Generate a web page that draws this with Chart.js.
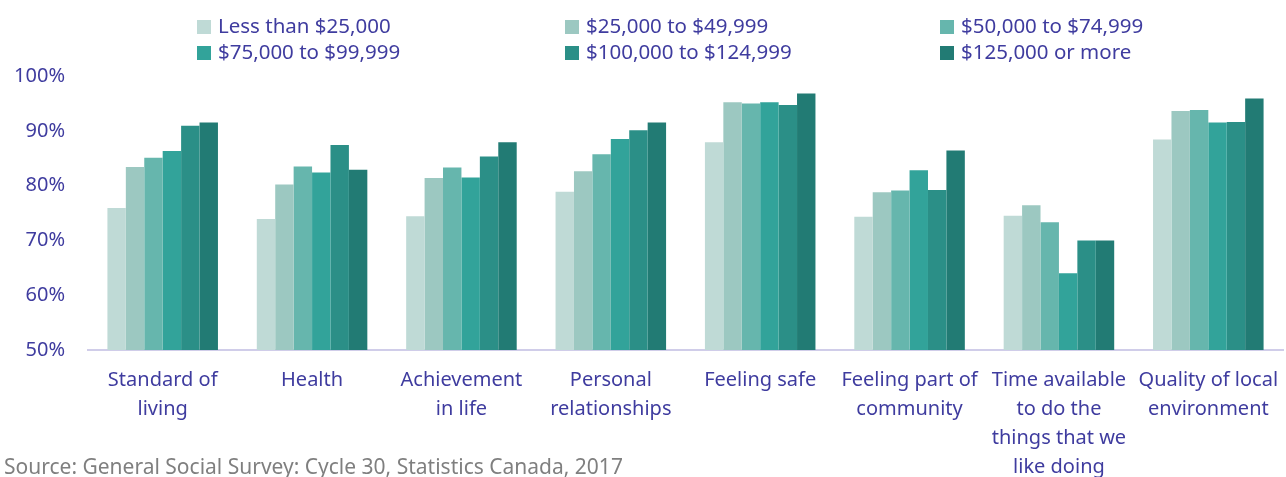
<!DOCTYPE html>
<html>
<head>
<meta charset="utf-8">
<script src="https://cdn.jsdelivr.net/npm/chart.js@4.4.1/dist/chart.umd.min.js"></script>
<style>
  body { margin: 0; overflow: hidden; background: #fff; }
  #wrap { position: relative; width: 1286px; height: 498px; }
  #source {
    position: absolute; left: 4px; top: 452px; line-height: 1.3;
    font: 21px "Noto Sans", sans-serif; color: #7f7f7f; white-space: nowrap;
  }
</style>
</head>
<body>
<div id="wrap">
  <canvas id="stage"></canvas>
  <div id="source">Source: General Social Survey: Cycle 30, Statistics Canada, 2017</div>
</div>
<script>
const categories = [
  ['Standard of', 'living'],
  ['Health'],
  ['Achievement', 'in life'],
  ['Personal', 'relationships'],
  ['Feeling safe'],
  ['Feeling part of', 'community'],
  ['Time available', 'to do the', 'things that we', 'like doing'],
  ['Quality of local', 'environment']
];

const seriesNames = [
  'Less than $25,000',
  '$25,000 to $49,999',
  '$50,000 to $74,999',
  '$75,000 to $99,999',
  '$100,000 to $124,999',
  '$125,000 or more'
];

// percentages
const under25k   = [75.9, 73.9, 74.4, 78.9, 87.9, 74.3, 74.5, 88.4];
const from25k    = [83.4, 80.2, 81.4, 82.6, 95.2, 78.8, 76.4, 93.6];
const from50k    = [85.1, 83.5, 83.3, 85.7, 95.0, 79.1, 73.3, 93.8];
const from75k    = [86.3, 82.4, 81.5, 88.5, 95.2, 82.8, 64.0, 91.5];
const from100k   = [90.9, 87.4, 85.3, 90.1, 94.7, 79.2, 70.0, 91.6];
const over125k   = [91.5, 82.9, 87.9, 91.5, 96.8, 86.4, 70.0, 95.9];

const yTicks = [50, 60, 70, 80, 90, 100];

const colors = ['#bfdad6', '#9cc8c1', '#66b6ad', '#32a39a', '#2b8f87', '#227b74'];
const textColor = '#3f3c9f';
const font = '"Noto Sans", sans-serif';

const allSeries = [under25k, from25k, from50k, from75k, from100k, over125k];

// legend in a 3 x 2 grid, like the original
const gridLegend = {
  id: 'gridLegend',
  afterDraw(chart) {
    const ctx = chart.ctx;
    const colX = [197, 565, 940];
    const rowY = [27, 53];
    ctx.save();
    ctx.font = '20.5px ' + font;
    ctx.textBaseline = 'middle';
    chart.data.datasets.forEach((ds, i) => {
      const x = colX[i % 3];
      const y = rowY[Math.floor(i / 3)];
      ctx.fillStyle = ds.backgroundColor;
      ctx.fillRect(x, y - 7, 14, 14);
      ctx.fillStyle = textColor;
      ctx.fillText(ds.label, x + 21, y);
    });
    ctx.restore();
  }
};

new Chart(document.getElementById('stage'), {
  type: 'bar',
  data: {
    labels: categories,
    datasets: allSeries.map((d, i) => ({
      label: seriesNames[i],
      data: d,
      backgroundColor: colors[i],
      categoryPercentage: 0.74,
      barPercentage: 1.0
    }))
  },
  options: {
    responsive: true,
    maintainAspectRatio: false,
    animation: false,
    layout: { padding: { top: 76, left: 13, right: 3, bottom: 0 } },
    plugins: {
      legend: { display: false },
      tooltip: { enabled: false }
    },
    scales: {
      x: {
        // let the last label hang into the margin like the original
        afterFit: (s) => { s.paddingLeft = 0; s.paddingRight = 0; },
        grid: { display: false, drawTicks: false },
        border: { display: true, color: '#d0cde9', width: 2 },
        ticks: {
          color: textColor,
          font: { family: font, size: 20, lineHeight: 1.45 },
          padding: 16,
          maxRotation: 0,
          autoSkip: false
        }
      },
      y: {
        min: 50,
        max: 100,
        afterBuildTicks: (s) => { s.ticks = yTicks.map(v => ({ value: v })); },
        afterFit: (s) => { s.width = 75; },
        grid: { display: false, drawTicks: false },
        border: { display: false },
        ticks: {
          color: textColor,
          font: { family: font, size: 20 },
          padding: 23,
          callback: (v) => v + '%'
        }
      }
    }
  },
  plugins: [gridLegend]
});
</script>
</body>
</html>
